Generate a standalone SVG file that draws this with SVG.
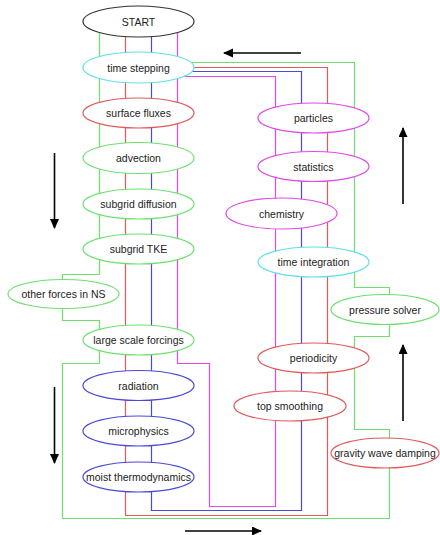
<svg xmlns="http://www.w3.org/2000/svg" width="440" height="535" viewBox="0 0 440 535">
<style>
.c{fill:none;stroke-width:1.2}
.g{stroke:#6ee06e}.r{stroke:#e05a5a}.b{stroke:#4a4ad6}.m{stroke:#e04ae6}.cy{stroke:#5ee0e6}.k{stroke:#333}
ellipse{fill:#fff;stroke-width:1.2}
text{font-family:"Liberation Sans",Arial,sans-serif;font-size:10.5px;fill:#222;text-anchor:middle}
.ar{stroke:#000;stroke-width:1.6;fill:none;marker-end:url(#ah)}
</style>
<defs>
<marker id="ah" markerWidth="10" markerHeight="10" refX="9" refY="4.5" orient="auto" markerUnits="userSpaceOnUse">
<path d="M0,0 L10,4.5 L0,9 Z" fill="#000"/>
</marker>
</defs>
<rect width="440" height="535" fill="#fff"/>
<g id="connectors">
<path class="c g" d="M99.5 21 V274.5 H62.5 V294"/>
<path class="c g" d="M62.5 294 V320.5 H99.5 V340"/>
<path class="c g" d="M99.5 340 V363.5 H62.5 V518.5 H389.5 V453"/>
<path class="c g" d="M389.5 453 V429.5 H354.5 V336.5 H389.5 V310"/>
<path class="c g" d="M389.5 310 V287.5 H354.5 V62.5 H138"/>
<path class="c r" d="M125.5 21 V515.5 H327.5 V67.5 H138"/>
<path class="c b" d="M151.5 21 V510.5 H301.5 V71.5 H138"/>
<path class="c m" d="M177.5 21 V363.5 H209.5 V506.5 H275.5 V76.5 H138"/>
</g>
<g id="arrows">
<line class="ar" x1="301" y1="53" x2="224" y2="53"/>
<line class="ar" x1="403" y1="204" x2="403" y2="128"/>
<line class="ar" x1="54.5" y1="153" x2="54.5" y2="228"/>
<line class="ar" x1="54.5" y1="387" x2="54.5" y2="463"/>
<line class="ar" x1="403" y1="421" x2="403" y2="345"/>
<line class="ar" x1="185" y1="531" x2="261" y2="531"/>
</g>
<g id="start"><ellipse class="k" cx="138.5" cy="21.5" rx="55.5" ry="15.5"/><text x="138.5" y="25.5">START</text></g>
<g id="time-stepping"><ellipse class="cy" cx="138.5" cy="67.5" rx="55.5" ry="15.5"/><text x="138.5" y="71.5">time stepping</text></g>
<g id="surface-fluxes"><ellipse class="r" cx="138.5" cy="113" rx="55.5" ry="15"/><text x="138.5" y="117">surface fluxes</text></g>
<g id="advection"><ellipse class="g" cx="138.5" cy="158" rx="55.5" ry="15.5"/><text x="138.5" y="162">advection</text></g>
<g id="subgrid-diffusion"><ellipse class="g" cx="138.5" cy="204" rx="55.5" ry="15"/><text x="138.5" y="208">subgrid diffusion</text></g>
<g id="subgrid-tke"><ellipse class="g" cx="138.5" cy="249" rx="55.5" ry="15"/><text x="138.5" y="253">subgrid TKE</text></g>
<g id="other-forces"><ellipse class="g" cx="63.5" cy="294" rx="55.5" ry="14.5"/><text x="63.5" y="298">other forces in NS</text></g>
<g id="large-scale-forcings"><ellipse class="g" cx="138.5" cy="340" rx="55.5" ry="15"/><text x="138.5" y="344">large scale forcings</text></g>
<g id="radiation"><ellipse class="b" cx="138.5" cy="385.5" rx="55.5" ry="15"/><text x="138.5" y="389.5">radiation</text></g>
<g id="microphysics"><ellipse class="b" cx="138.5" cy="431" rx="55.5" ry="15"/><text x="138.5" y="435">microphysics</text></g>
<g id="moist-thermodynamics"><ellipse class="b" cx="138.5" cy="477" rx="55.5" ry="15"/><text x="138.5" y="481">moist thermodynamics</text></g>
<g id="particles"><ellipse class="m" cx="313.5" cy="118" rx="55.5" ry="15"/><text x="313.5" y="122">particles</text></g>
<g id="statistics"><ellipse class="m" cx="313.5" cy="166.5" rx="55.5" ry="15"/><text x="313.5" y="170.5">statistics</text></g>
<g id="chemistry"><ellipse class="m" cx="281.5" cy="213.5" rx="55.5" ry="15.5"/><text x="281.5" y="217.5">chemistry</text></g>
<g id="time-integration"><ellipse class="cy" cx="313.5" cy="262" rx="55.5" ry="15"/><text x="313.5" y="266">time integration</text></g>
<g id="pressure-solver"><ellipse class="g" cx="385" cy="309.5" rx="54" ry="15"/><text x="385" y="313.5">pressure solver</text></g>
<g id="periodicity"><ellipse class="r" cx="313.5" cy="358" rx="55.5" ry="15"/><text x="313.5" y="362">periodicity</text></g>
<g id="top-smoothing"><ellipse class="r" cx="290" cy="406" rx="56" ry="15"/><text x="290" y="410">top smoothing</text></g>
<g id="gravity-wave-damping"><ellipse class="r" cx="385" cy="453" rx="54" ry="15"/><text x="385" y="457">gravity wave damping</text></g>
</svg>
